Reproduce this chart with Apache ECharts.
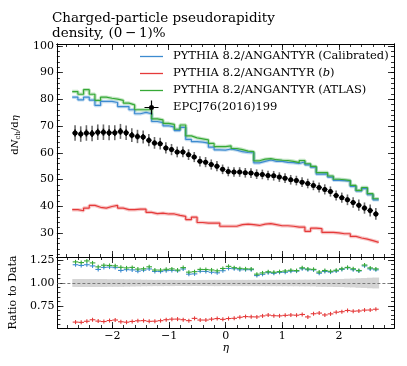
<!DOCTYPE html>
<html>
<head>
<meta charset="utf-8">
<script src="https://cdn.jsdelivr.net/npm/echarts@6/dist/echarts.min.js"></script>
<style>
  html, body { margin: 0; padding: 0; background: #fff; }
  #chart { width: 407px; height: 366px; }
</style>
</head>
<body>
<div id="chart"></div>
<script>
// eta bin edges (54 bins of 0.1)
var etaEdges = [-2.7, -2.6, -2.5, -2.4, -2.3, -2.2, -2.1, -2.0, -1.9, -1.8, -1.7, -1.6, -1.5, -1.4,
  -1.3, -1.2, -1.1, -1.0, -0.9, -0.8, -0.7, -0.6, -0.5, -0.4, -0.3, -0.2, -0.1, 0.0, 0.1, 0.2,
  0.3, 0.4, 0.5, 0.6, 0.7, 0.8, 0.9, 1.0, 1.1, 1.2, 1.3, 1.4, 1.5, 1.6, 1.7, 1.8, 1.9, 2.0,
  2.1, 2.2, 2.3, 2.4, 2.5, 2.6, 2.7];

// EPCJ76(2016)199 data points and total uncertainty
var dataVals = [67.4, 67.0, 67.4, 67.2, 67.7, 67.7, 67.5, 67.5, 68.0, 67.5,
  66.6, 66.1, 65.9, 64.7, 63.7, 63.4, 61.8, 61.2, 60.3, 60.3,
  59.3, 58.4, 56.8, 56.5, 55.6, 55.0, 53.8, 53.0, 52.8, 52.8,
  52.5, 52.4, 52.0, 51.9, 51.5, 51.4, 50.9, 50.5, 49.9, 49.6,
  49.0, 48.5, 47.8, 47.0, 46.3, 45.5, 44.0, 43.2, 42.4, 41.4,
  40.4, 39.3, 38.4, 37.1];
var dataErr = [2.9, 2.9, 2.9, 2.9, 2.9, 2.9, 2.8, 2.8, 2.8, 2.7,
  2.6, 2.5, 2.4, 2.3, 2.2, 2.2, 2.1, 2.1, 2.0, 2.0,
  2.0, 1.9, 1.9, 1.9, 1.9, 1.9, 1.8, 1.8, 1.8, 1.8,
  1.8, 1.8, 1.8, 1.8, 1.8, 1.8, 1.8, 1.8, 1.8, 1.8,
  1.8, 1.8, 1.8, 1.9, 1.9, 1.9, 1.9, 1.9, 2.0, 2.0,
  2.1, 2.1, 2.2, 2.2];

// PYTHIA 8.2/ANGANTYR predictions
var calibVals = [80.8, 79.8, 80.8, 79.7, 77.7, 79.2, 79.2, 78.8, 77.3, 77.3,
  76.1, 74.6, 75.1, 74.6, 71.7, 71.3, 70.1, 69.6, 68.3, 69.5,
  65.0, 64.2, 64.0, 63.6, 62.1, 61.1, 61.0, 61.4, 61.0, 60.4,
  60.1, 60.0, 56.2, 56.8, 57.3, 56.8, 56.8, 56.4, 56.3, 56.0,
  56.6, 55.5, 54.6, 52.0, 52.1, 50.9, 49.7, 49.6, 49.4, 47.4,
  45.7, 46.6, 44.3, 42.4];
var bVals = [38.7, 38.3, 39.3, 40.3, 39.6, 39.3, 39.9, 40.3, 39.3, 38.7,
  38.7, 38.9, 38.9, 37.7, 37.2, 37.4, 37.1, 37.1, 36.6, 36.2,
  35.0, 35.9, 33.9, 33.7, 33.7, 33.7, 32.5, 32.5, 32.5, 33.1,
  33.3, 33.1, 32.8, 33.3, 33.5, 33.1, 32.7, 32.7, 32.5, 32.2,
  32.2, 30.6, 31.8, 31.6, 30.2, 30.2, 30.0, 29.7, 29.7, 28.7,
  28.1, 27.7, 27.1, 26.5];
var atlasVals = [82.9, 81.9, 83.6, 81.9, 79.6, 80.8, 80.4, 80.1, 79.6, 78.6,
  77.9, 76.1, 76.1, 76.1, 72.7, 72.3, 71.0, 70.6, 68.8, 70.4,
  66.3, 65.6, 65.2, 64.8, 63.5, 62.3, 62.3, 62.6, 61.6, 61.2,
  60.6, 60.4, 57.0, 57.6, 57.8, 57.4, 57.2, 57.1, 56.8, 56.3,
  57.1, 55.9, 54.9, 52.6, 52.6, 51.3, 50.1, 49.9, 49.6, 47.8,
  45.9, 47.0, 44.7, 42.8];

// tick labels
var xTicks = [-2, -1, 0, 1, 2];
var yTicks = [30, 40, 50, 60, 70, 80, 90, 100];
var ratioTicks = [0.75, 1.0, 1.25];

var NAMES = ['PYTHIA 8.2/ANGANTYR (Calibrated)', 'PYTHIA 8.2/ANGANTYR (b)',
  'PYTHIA 8.2/ANGANTYR (ATLAS)', 'EPCJ76(2016)199'];

var FONT = 'DejaVu Serif';
var BLUE = '#3d8bd0', RED = '#e53a3a', GREEN = '#36a936';
var X_MIN = -2.97, X_MAX = 2.97;

function steps(a, b, step) {
  var out = [];
  for (var v = a; v <= b + 1e-9; v += step) out.push(+v.toFixed(3));
  return out;
}

var etaCentres = etaEdges.slice(1).map(function (e, i) { return (etaEdges[i] + e) / 2; });

function stepData(vals) {
  var pts = vals.map(function (v, i) { return [etaEdges[i], v]; });
  pts.push([etaEdges[vals.length], vals[vals.length - 1]]);
  return pts;
}

function ratioData(vals) {
  return vals.map(function (v, i) {
    return [etaCentres[i], v / dataVals[i], etaEdges[i], etaEdges[i + 1]];
  });
}

function frameAxis(grid, pos, min, max, ticks, len) {
  return {
    type: 'value', gridIndex: grid, position: pos, min: min, max: max,
    axisLine: { show: true, onZero: false, lineStyle: { color: '#000', width: 1 } },
    axisTick: { show: true, inside: true, length: len, customValues: ticks,
      lineStyle: { color: '#000', width: 0.8 } },
    axisLabel: { show: false },
    splitLine: { show: false }
  };
}

function labelStyle(ticks, fmt, margin) {
  return { show: true, customValues: ticks, formatter: fmt, margin: margin,
    fontFamily: FONT, fontSize: 11, color: '#000' };
}

function etaFmt(v) { return v < 0 ? '\u2212' + (-v) : '' + v; }

var xMinor = steps(-2.8, 2.8, 0.2);
var yMinor = steps(22, 100, 2);
var ratioMinor = steps(0.55, 1.25, 0.05);
var R_MIN = 0.51, R_MAX = 1.283, Y_MIN = 21, Y_MAX = 100.7;

var xAxes = [
  frameAxis(0, 'bottom', X_MIN, X_MAX, xTicks, 6),
  frameAxis(0, 'bottom', X_MIN, X_MAX, xMinor, 3),
  frameAxis(0, 'top', X_MIN, X_MAX, xTicks, 6),
  frameAxis(0, 'top', X_MIN, X_MAX, xMinor, 3),
  frameAxis(1, 'bottom', X_MIN, X_MAX, xTicks, 6),
  frameAxis(1, 'bottom', X_MIN, X_MAX, xMinor, 3),
  frameAxis(1, 'top', X_MIN, X_MAX, xTicks, 6),
  frameAxis(1, 'top', X_MIN, X_MAX, xMinor, 3)
];
xAxes[4].axisLabel = labelStyle(xTicks, etaFmt, 3);
xAxes[4].name = 'η';
xAxes[4].nameLocation = 'middle';
xAxes[4].nameGap = 15;
xAxes[4].nameTextStyle = { fontFamily: FONT, fontSize: 11, fontStyle: 'italic', color: '#000' };

var yAxes = [
  frameAxis(0, 'left', Y_MIN, Y_MAX, yTicks, 6),
  frameAxis(0, 'left', Y_MIN, Y_MAX, yMinor, 3),
  frameAxis(0, 'right', Y_MIN, Y_MAX, yTicks, 6),
  frameAxis(0, 'right', Y_MIN, Y_MAX, yMinor, 3),
  frameAxis(1, 'left', R_MIN, R_MAX, ratioTicks, 6),
  frameAxis(1, 'left', R_MIN, R_MAX, ratioMinor, 3),
  frameAxis(1, 'right', R_MIN, R_MAX, ratioTicks, 6),
  frameAxis(1, 'right', R_MIN, R_MAX, ratioMinor, 3)
];
yAxes[0].axisLabel = labelStyle(yTicks, null, 3);
yAxes[0].name = '{n|d}{i|N}{s|ch}{n|/d}{i|η}';
yAxes[0].nameLocation = 'middle';
yAxes[0].nameGap = 31;
yAxes[0].nameTextStyle = {
  padding: [0, 0, 0, 31],
  lineHeight: 14,
  rich: {
    n: { fontFamily: FONT, fontSize: 10, color: '#000' },
    i: { fontFamily: FONT, fontSize: 10, fontStyle: 'italic', color: '#000' },
    s: { fontFamily: FONT, fontSize: 7, color: '#000', verticalAlign: 'bottom' }
  }
};
yAxes[4].axisLabel = labelStyle(ratioTicks, function (v) { return v.toFixed(2); }, 3);
yAxes[4].name = 'Ratio to Data';
yAxes[4].nameLocation = 'middle';
yAxes[4].nameGap = 31;
yAxes[4].nameTextStyle = { fontFamily: FONT, fontSize: 11, color: '#000' };

function mcSeries(name, vals, color) {
  return [{
    name: name + ' band', type: 'line', xAxisIndex: 0, yAxisIndex: 0,
    data: stepData(vals), step: 'end', symbol: 'none', silent: true,
    lineStyle: { color: color, width: 3.5, opacity: 0.3 }, z: 2
  }, {
    name: name, type: 'line', xAxisIndex: 0, yAxisIndex: 0,
    data: stepData(vals), step: 'end', symbol: 'none', silent: true,
    color: color, lineStyle: { color: color, width: 1.2 }, z: 3
  }];
}

function ratioSeries(name, vals, color) {
  return {
    name: name + ' ratio', type: 'custom', xAxisIndex: 4, yAxisIndex: 4,
    data: ratioData(vals), silent: true, z: 4,
    renderItem: function (params, api) {
      var r = api.value(1);
      var l = api.coord([api.value(2), r]);
      var h = api.coord([api.value(3), r]);
      var c = api.coord([api.value(0), r]);
      var st = { stroke: color, lineWidth: 1.1 };
      return { type: 'group', children: [
        { type: 'line', shape: { x1: l[0], y1: l[1], x2: h[0], y2: h[1] }, style: st },
        { type: 'line', shape: { x1: c[0], y1: c[1] - 2, x2: c[0], y2: c[1] + 2 }, style: st }
      ] };
    }
  };
}

var series = [].concat(
  mcSeries(NAMES[0], calibVals, BLUE),
  mcSeries(NAMES[1], bVals, RED),
  mcSeries(NAMES[2], atlasVals, GREEN)
);

// data points with error bars
series.push({
  name: NAMES[3], type: 'custom', xAxisIndex: 0, yAxisIndex: 0, silent: true, z: 5,
  color: '#000',
  data: dataVals.map(function (v, i) { return [etaCentres[i], v, dataErr[i], etaEdges[i], etaEdges[i + 1]]; }),
  renderItem: function (params, api) {
    var x = api.value(0), y = api.value(1), e = api.value(2);
    var c = api.coord([x, y]);
    var top = api.coord([x, y + e]), bot = api.coord([x, y - e]);
    var itop = api.coord([x, y + 0.45 * e]), ibot = api.coord([x, y - 0.45 * e]);
    var l = api.coord([api.value(3), y]), h = api.coord([api.value(4), y]);
    return { type: 'group', children: [
      { type: 'line', shape: { x1: c[0], y1: top[1], x2: c[0], y2: bot[1] }, style: { stroke: '#6a6a6a', lineWidth: 1.6 } },
      { type: 'line', shape: { x1: c[0], y1: itop[1], x2: c[0], y2: ibot[1] }, style: { stroke: '#000', lineWidth: 1.6 } },
      { type: 'line', shape: { x1: l[0], y1: c[1], x2: h[0], y2: c[1] }, style: { stroke: '#000', lineWidth: 1 } },
      { type: 'circle', shape: { cx: c[0], cy: c[1], r: 2.5 }, style: { fill: '#000' } }
    ] };
  }
});

// data uncertainty band and unity line in the ratio panel
series.push({
  name: 'data band', type: 'custom', xAxisIndex: 4, yAxisIndex: 4, silent: true, z: 2,
  data: dataVals.map(function (v, i) {
    return [etaCentres[i], 1 - dataErr[i] / v, 1 + dataErr[i] / v, etaEdges[i], etaEdges[i + 1]];
  }),
  renderItem: function (params, api) {
    var p1 = api.coord([api.value(3), api.value(2)]);
    var p2 = api.coord([api.value(4), api.value(1)]);
    return { type: 'rect', shape: { x: p1[0] - 0.4, y: p1[1], width: p2[0] - p1[0] + 0.8, height: p2[1] - p1[1] },
      style: { fill: '#d4d4d4' } };
  },
  markLine: {
    silent: true, symbol: ['none', 'none'], label: { show: false },
    lineStyle: { color: '#7a7a7a', type: [3, 2], width: 1 },
    data: [{ yAxis: 1 }]
  }
});

series.push(ratioSeries(NAMES[0], calibVals, BLUE));
series.push(ratioSeries(NAMES[1], bVals, RED));
series.push(ratioSeries(NAMES[2], atlasVals, GREEN));

var LINE_ICON = 'path://M0,0H23V1.3H0Z';
var DATA_ICON = 'path://M0,6.4H14V7.6H0Z M6.4,0H7.6V14H6.4Z M9.5,7A2.5,2.5,0,1,1,4.5,7A2.5,2.5,0,1,1,9.5,7Z';

var option = {
  animation: false,
  backgroundColor: '#fff',
  title: {
    text: 'Charged-particle pseudorapidity\ndensity, (0\u2009\u2212\u20091)%',
    left: 52, top: 11, padding: 0,
    textStyle: { fontFamily: FONT, fontSize: 13.5, fontWeight: 'normal', color: '#000', lineHeight: 15 }
  },
  grid: [
    { left: 53, top: 44, width: 341, height: 213 },
    { left: 53, top: 257, width: 341, height: 71 }
  ],
  legend: {
    left: 140, top: 48, orient: 'vertical', padding: 0,
    itemWidth: 23, itemHeight: 14, itemGap: 0, selectedMode: false,
    textStyle: { fontFamily: FONT, fontSize: 11.5, color: '#000', lineHeight: 17, padding: [0, 0, 0, 5],
      rich: { i: { fontFamily: FONT, fontSize: 11.5, fontStyle: 'italic', color: '#000', lineHeight: 17 } } },
    formatter: function (name) { return name.replace('(b)', '({i|b})'); },
    data: [
      { name: NAMES[0], icon: LINE_ICON, itemStyle: { color: BLUE, borderWidth: 0 } },
      { name: NAMES[1], icon: LINE_ICON, itemStyle: { color: RED, borderWidth: 0 } },
      { name: NAMES[2], icon: LINE_ICON, itemStyle: { color: GREEN, borderWidth: 0 } },
      { name: NAMES[3], icon: DATA_ICON, itemStyle: { color: '#000', borderWidth: 0 } }
    ]
  },
  xAxis: xAxes,
  yAxis: yAxes,
  series: series
};

var chart = echarts.init(document.getElementById('chart'));
chart.setOption(option);
</script>
</body>
</html>
